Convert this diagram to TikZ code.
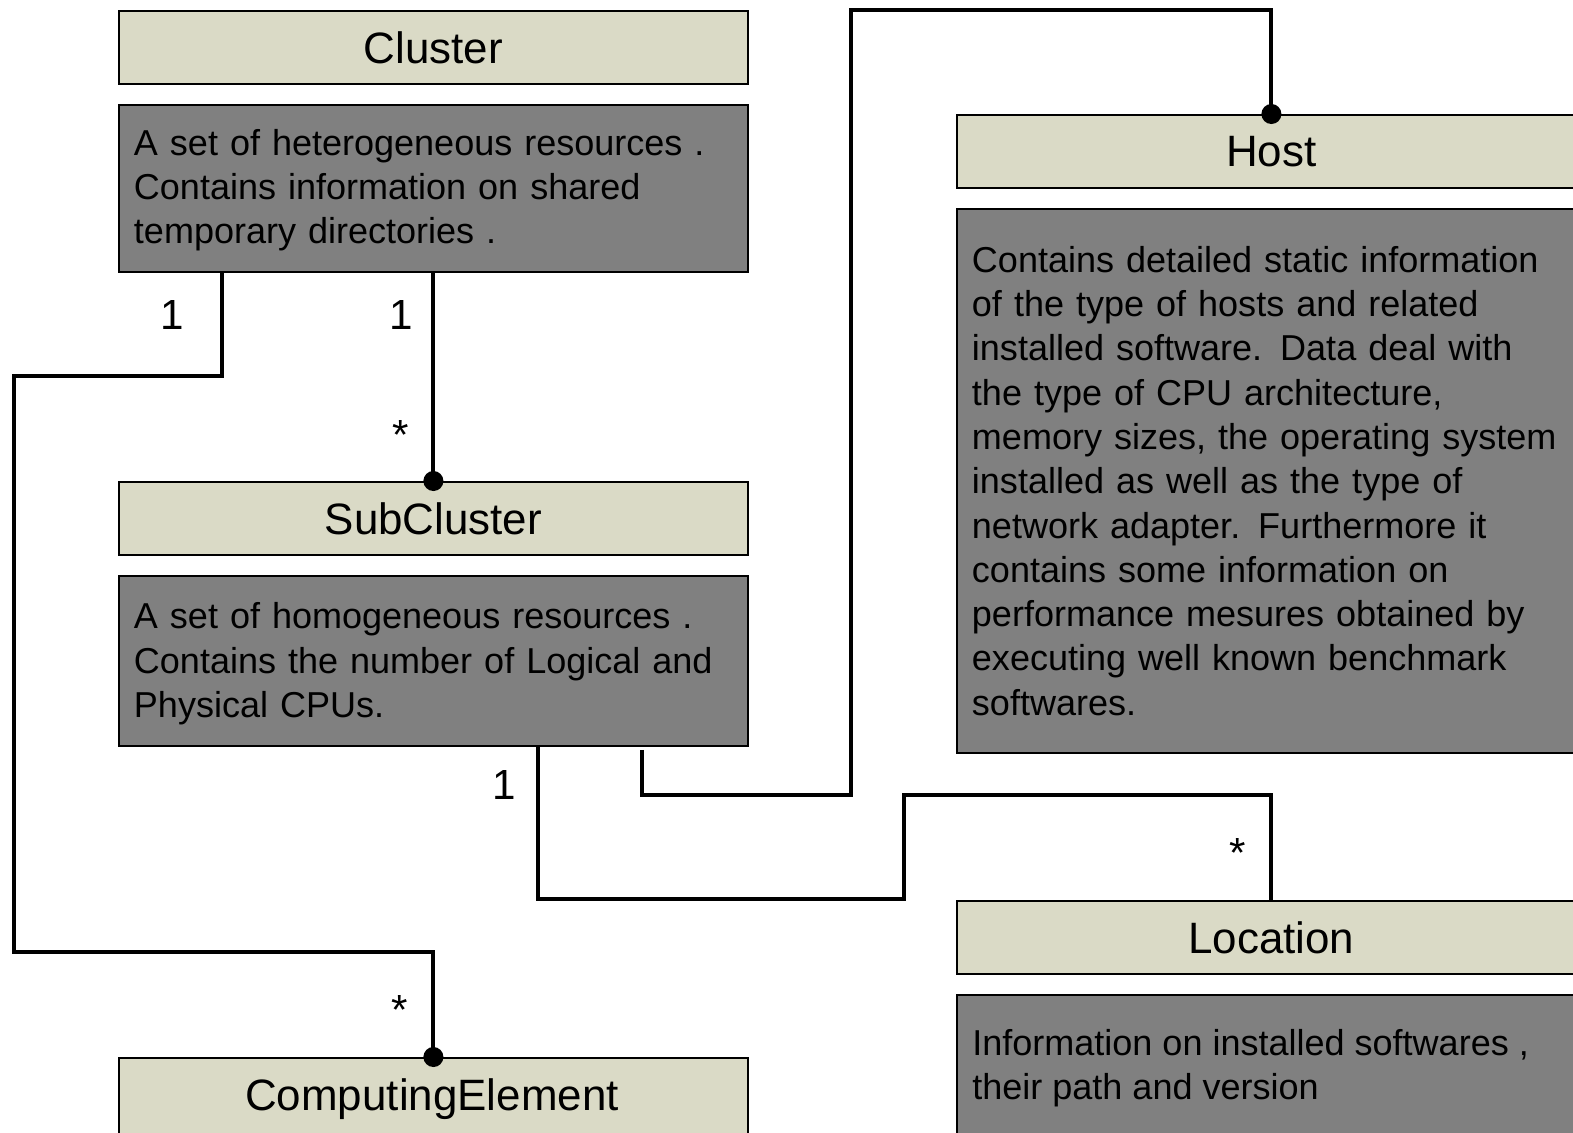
\documentclass[tikz,border=0pt]{standalone}
\usepackage{fontspec}
\setmainfont{Liberation Sans}
\usetikzlibrary{calc}

\definecolor{titlefill}{RGB}{218,218,198}
\definecolor{descfill}{RGB}{128,128,128}

\tikzset{
    titlebox/.style={draw, line width=1.1pt, fill=titlefill, anchor=north west,
        minimum width=12.58cm, minimum height=1.46cm, inner sep=0pt,
        font=\fontsize{25}{30}\selectfont},
    descbox/.style={draw, line width=1.1pt, fill=descfill, anchor=north west,
        minimum width=12.58cm, inner xsep=0.3cm, text width=11.98cm, align=left,
        font=\fontsize{20.5}{25.2}\selectfont},
    link/.style={line width=2.2pt},
    mult/.style={inner sep=0pt, font=\fontsize{24}{28}\selectfont},
}

\begin{document}
\begin{tikzpicture}[x=0.02cm, y=-0.02cm]
    \useasboundingbox (0,0) rectangle (1573,1133);

    % left column
    \node[titlebox] (clustertitle) at (118,10) {Cluster};
    \node[descbox, minimum height=3.34cm] (clusterdesc) at (118,104)
        {\rule{0pt}{17pt}A set of heterogeneous resources .\\Contains information on shared\\temporary directories .};
    \node[titlebox] (subtitle) at (118,481) {SubCluster};
    \node[descbox, minimum height=3.4cm] (subdesc) at (118,575)
        {\rule{0pt}{18pt}A set of homogeneous resources .\\Contains the number of Logical and\\Physical CPUs.};
    \node[titlebox, minimum height=1.7cm] (cetitle) at (118,1057) {};
    \node[font=\fontsize{25}{30}\selectfont] (cetext) at (432,1099) {ComputingElement};

    % right column
    \node[titlebox] (hosttitle) at (956,114) {Host};
    \node[descbox, minimum height=10.88cm] (hostdesc) at (956,208)
        {Contains detailed static information\\of the type of hosts and related\\installed software. Data deal with\\the type of CPU architecture,\\memory sizes, the operating system\\installed as well as the type of\\network adapter. Furthermore it\\contains some information on\\performance mesures obtained by\\executing well known benchmark\\softwares.};
    \node[titlebox] (loctitle) at (956,900) {Location};
    \node[draw, line width=1.1pt, fill=descfill, anchor=north west, minimum width=12.58cm,
        minimum height=3.4cm] (locdesc) at (956,994) {};
    \node[anchor=north west, inner sep=0pt, align=left, font=\fontsize{20.5}{25.2}\selectfont]
        (loctext) at (972,1029) {Information on installed softwares ,\\their path and version};

    % connectors
    \draw[link] ($(clusterdesc.south west)+(104,0)$) |- (14,376) |- (cetitle.north |- 0,952) -- (cetitle.north);
    \draw[link] (clusterdesc.south) -- (subtitle.north);
    \draw[link] ($(subdesc.south west)+(524,3)$) |- (851,795) -- (851,10) -| (hosttitle.north);
    \draw[link] ($(subdesc.south west)+(420,0)$) |- (904,899) -- (904,795) -| (loctitle.north);
    \fill (cetitle.north) circle[radius=5.7pt];
    \fill (subtitle.north) circle[radius=5.7pt];
    \fill (hosttitle.north) circle[radius=5.7pt];

    % multiplicities
    \node[mult] (ceone) at (172,315) {1};
    \node[mult] (subone) at (401,315) {1};
    \node[mult] (substar) at (401,435) {*};
    \node[mult] (cestar) at (400,1010) {*};
    \node[mult] (locone) at (504,785) {1};
    \node[mult] (locstar) at (1238,853) {*};
\end{tikzpicture}
\end{document}
